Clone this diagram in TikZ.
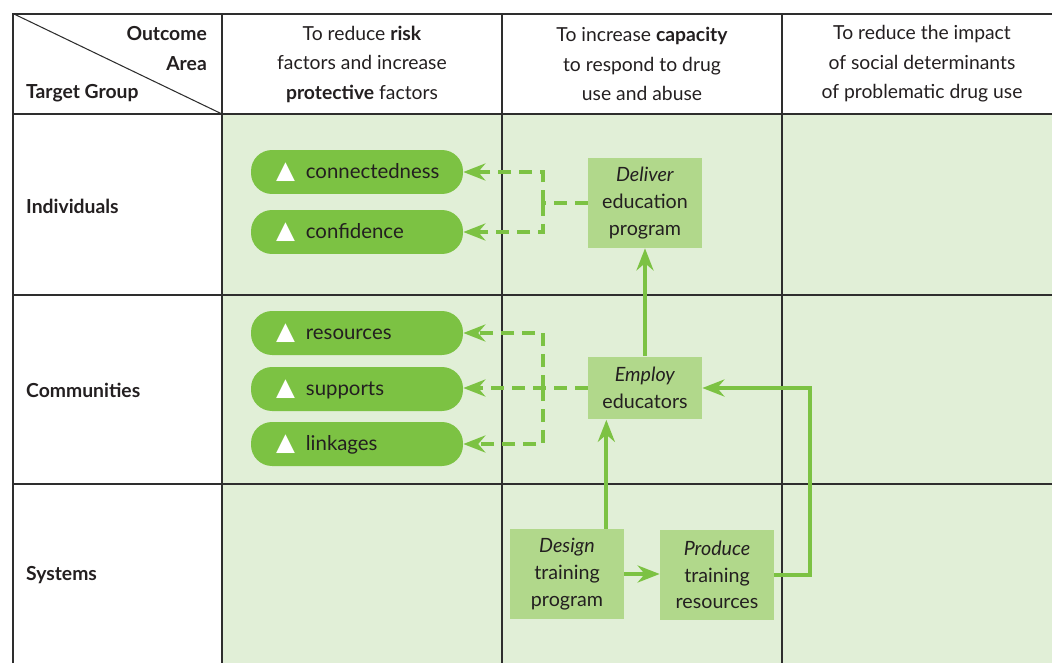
\documentclass[tikz,border=0pt]{standalone}
\usepackage{fontspec}
\setmainfont{Lato}
\newfontfamily\symfont{DejaVu Sans}
\usetikzlibrary{arrows.meta}
\definecolor{gridline}{HTML}{2E2E2E}
\definecolor{cellbg}{HTML}{E1EFD7}
\definecolor{leafgreen}{HTML}{7CC243}
\definecolor{boxgreen}{HTML}{B1D88B}
\definecolor{ink}{HTML}{231F20}
% white triangle in front of a factor name
\newcommand{\factor}[1]{\mbox{{\symfont\color{white}\fontsize{14}{14}\selectfont ▲}\hspace{0.22cm}#1}}
\tikzset{
  pill/.style={fill=leafgreen, rounded corners=0.42cm, text width=3.24cm, inner xsep=0.5cm,
    minimum height=0.88cm, align=left, font=\fontsize{11.6}{14}\selectfont},
  taskbox/.style={fill=boxgreen, minimum width=2.28cm, align=center,
    font=\fontsize{11.2}{15.2}\selectfont},
  solidlink/.style={leafgreen, line width=0.08cm},
  dashlink/.style={leafgreen, line width=0.08cm, dash pattern=on 0.26cm off 0.16cm},
  >={Stealth[length=0.44cm,width=0.34cm]}
}
\begin{document}
\begin{tikzpicture}[x=0.02cm,y=-0.02cm,
    every node/.style={font=\fontsize{11}{16.8}\selectfont, text=ink}]
  \useasboundingbox (0,0) rectangle (1052,663);
  % Grid
  \fill[cellbg] (222,114) rectangle (1052,663);
  \draw[gridline, line width=0.6pt] (14,114) -- (1052,114) (14,295) -- (1052,295) (14,484) -- (1052,484);
  \draw[gridline, line width=0.6pt] (222,14) -- (222,663) (502,14) -- (502,663) (782,14) -- (782,663);
  \draw[gridline, line width=0.6pt] (14,14) -- (222,114);
  \draw[gridline, line width=1.2pt] (13,663) -- (13,14) -- (1052,14);
  % Headers
  \node[anchor=east] (outcome) at (213,34) {\textbf{Outcome}};
  \node[anchor=east] (area) at (213,64) {\textbf{Area}};
  \node[anchor=west] (target) at (20,93) {\textbf{Target Group}};
  \node[align=center] (risk) at (362,64) {To reduce \textbf{risk}\\factors and increase\\\textbf{protective} factors};
  \node[align=center] (capacity) at (642,64) {To increase \textbf{capacity}\\to respond to drug\\use and abuse};
  \node[align=center] (social) at (922,64) {To reduce the impact\\of social determinants\\of problematic drug use};
  \node[anchor=west] (indiv) at (20,206) {\textbf{Individuals}};
  \node[anchor=west] (comm) at (20,390) {\textbf{Communities}};
  \node[anchor=west] (sys) at (20,575) {\textbf{Systems}};
  % Factors
  \node[pill] (connected) at (357,172) {\factor{connectedness}};
  \node[pill] (confidence) at (357,232) {\factor{confidence}};
  \node[pill] (resources) at (357,333) {\factor{resources}};
  \node[pill] (supports) at (357,389) {\factor{supports}};
  \node[pill] (linkages) at (357,444) {\factor{linkages}};
  % Actions
  \node[taskbox, minimum height=1.8cm] (deliver) at (645,203) {\textit{Deliver}\\education\\program};
  \node[taskbox, minimum height=1.26cm] (employ) at (645,388) {\textit{Employ}\\educators};
  \node[taskbox, minimum height=1.8cm] (design) at (567,574) {\textit{Design}\\training\\program};
  \node[taskbox, minimum height=1.8cm] (produce) at (717,575) {\textit{Produce}\\training\\resources};
  % Solid links
  \draw[solidlink,->] (employ) -- (deliver);
  \coordinate (lift) at ([xshift=-0.36cm]design.north east);
  \draw[solidlink,->] (lift) -- (lift |- employ.south);
  \draw[solidlink,->] (design.east) -- (design.east -| produce.west);
  \coordinate (loop) at (810,575);
  \draw[solidlink,->] (produce.east) -- (loop) |- (employ.east);
  % Dashed links
  \coordinate (fork1) at (543,203);
  \draw[dashlink] (deliver.west) -- (fork1);
  \draw[dashlink,->] (fork1) |- (connected.east);
  \draw[dashlink,->] (fork1) |- (confidence.east);
  \coordinate (fork2) at (543,388);
  \draw[dashlink,->] (employ.west) -- (employ.west -| supports.east);
  \draw[dashlink,->] (fork2) |- (resources.east);
  \draw[dashlink,->] (fork2) |- (linkages.east);
\end{tikzpicture}
\end{document}
